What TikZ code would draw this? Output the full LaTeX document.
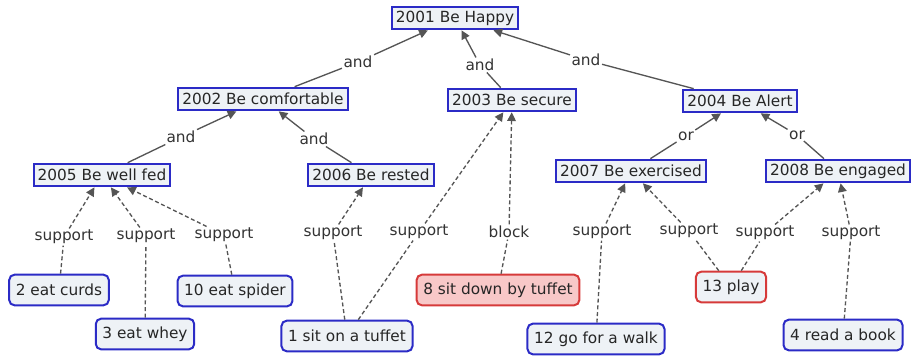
\documentclass[tikz,border=0pt]{standalone}
\usepackage{fontspec}
\setmainfont{DejaVu Sans}
\usetikzlibrary{arrows.meta}

\definecolor{cblue}{HTML}{2B2BC6}
\definecolor{cred}{HTML}{D63A3A}
\definecolor{cfill}{HTML}{EEF2F6}
\definecolor{cpink}{HTML}{F8C8C8}
\definecolor{cline}{HTML}{555555}

\tikzset{
  goal/.style={draw=cblue,line width=1.5pt,fill=cfill,inner xsep=3pt,inner ysep=0pt,
    minimum height=17pt,text=black!85,font=\fontsize{11.5}{13}\selectfont},
  leaf/.style={goal,rounded corners=4pt,inner xsep=5pt,minimum height=23pt},
  bad/.style={leaf,draw=cred,fill=cpink},
  alert/.style={leaf,draw=cred},
  lbl/.style={fill=white,inner sep=1pt,font=\fontsize{11.5}{13}\selectfont,text=black!80},
  solid link/.style={draw=cline,line width=1pt},
  dash link/.style={draw=cline,line width=1pt,dash pattern=on 3pt off 2pt},
}

\begin{document}
\begin{tikzpicture}[x=0.75pt,y=-0.75pt,>={Triangle[length=6.5pt,width=6.5pt]}]
  \useasboundingbox (0,0) rectangle (911,358);

  % goals
  \node[goal] (g2001) at (455,18){2001 Be Happy};
  \node[goal] (g2002) at (263,99){2002 Be comfortable};
  \node[goal] (g2003) at (512,100){2003 Be secure};
  \node[goal] (g2004) at (740,101){2004 Be Alert};
  \node[goal] (g2005) at (102,175){2005 Be well fed};
  \node[goal] (g2006) at (371,175){2006 Be rested};
  \node[goal] (g2007) at (631,171){2007 Be exercised};
  \node[goal] (g2008) at (838,171){2008 Be engaged};

  % actions
  \node[leaf] (curds) at (59,290){2 eat curds};
  \node[leaf] (whey) at (145,334){3 eat whey};
  \node[leaf] (spider) at (235,291){10 eat spider};
  \node[leaf] (tuffet) at (347,336){1 sit on a tuffet};
  \node[bad] (sitdown) at (498,290){8 sit down by tuffet};
  \node[leaf] (walk) at (596,339){12 go for a walk};
  \node[alert] (play) at (731,287){13 play};
  \node[leaf] (book) at (843,335){4 read a book};

  % labels
  \node[lbl] (and1) at (358,62){and};
  \node[lbl] (and2) at (480,65){and};
  \node[lbl] (and3) at (586,60){and};
  \node[lbl] (and4) at (181,137){and};
  \node[lbl] (and5) at (314,139){and};
  \node[lbl] (or1) at (686,136){or};
  \node[lbl] (or2) at (797,135){or};
  \node[lbl] (sup1) at (64,237){support};
  \node[lbl] (sup2) at (146,236){support};
  \node[lbl] (sup3) at (224,235){support};
  \node[lbl] (sup4) at (333,233){support};
  \node[lbl] (sup5) at (419,232){support};
  \node[lbl] (blk) at (509,232){block};
  \node[lbl] (sup6) at (602,232){support};
  \node[lbl] (sup7) at (689,231){support};
  \node[lbl] (sup8) at (765,233){support};
  \node[lbl] (sup9) at (851,233){support};

  % and / or links
  \draw[solid link] (g2002) -- (and1); \draw[solid link,->] (and1) -- (g2001);
  \draw[solid link] (g2003) -- (and2); \draw[solid link,->] (and2) -- (g2001);
  \draw[solid link] (g2004) -- (and3); \draw[solid link,->] (and3) -- (g2001);
  \draw[solid link] (g2005) -- (and4); \draw[solid link,->] (and4) -- (g2002);
  \draw[solid link] (g2006) -- (and5); \draw[solid link,->] (and5) -- (g2002);
  \draw[solid link] (g2007) -- (or1); \draw[solid link,->] (or1) -- (g2004);
  \draw[solid link] (g2008) -- (or2); \draw[solid link,->] (or2) -- (g2004);

  % support / block links
  \draw[dash link] (curds) -- (sup1); \draw[dash link,->] (sup1) -- (g2005);
  \draw[dash link] (whey) -- (sup2); \draw[dash link,->] (sup2) -- (g2005);
  \draw[dash link] (spider) -- (sup3); \draw[dash link,->] (sup3) -- (g2005);
  \draw[dash link] (tuffet) -- (sup4); \draw[dash link,->] (sup4) -- (g2006);
  \draw[dash link] (tuffet) -- (sup5); \draw[dash link,->] (sup5) -- (g2003);
  \draw[dash link] (sitdown) -- (blk); \draw[dash link,->] (blk) -- (g2003);
  \draw[dash link] (walk) -- (sup6); \draw[dash link,->] (sup6) -- (g2007);
  \draw[dash link] (play) -- (sup7); \draw[dash link,->] (sup7) -- (g2007);
  \draw[dash link] (play) -- (sup8); \draw[dash link,->] (sup8) -- (g2008);
  \draw[dash link] (book) -- (sup9); \draw[dash link,->] (sup9) -- (g2008);
\end{tikzpicture}
\end{document}
